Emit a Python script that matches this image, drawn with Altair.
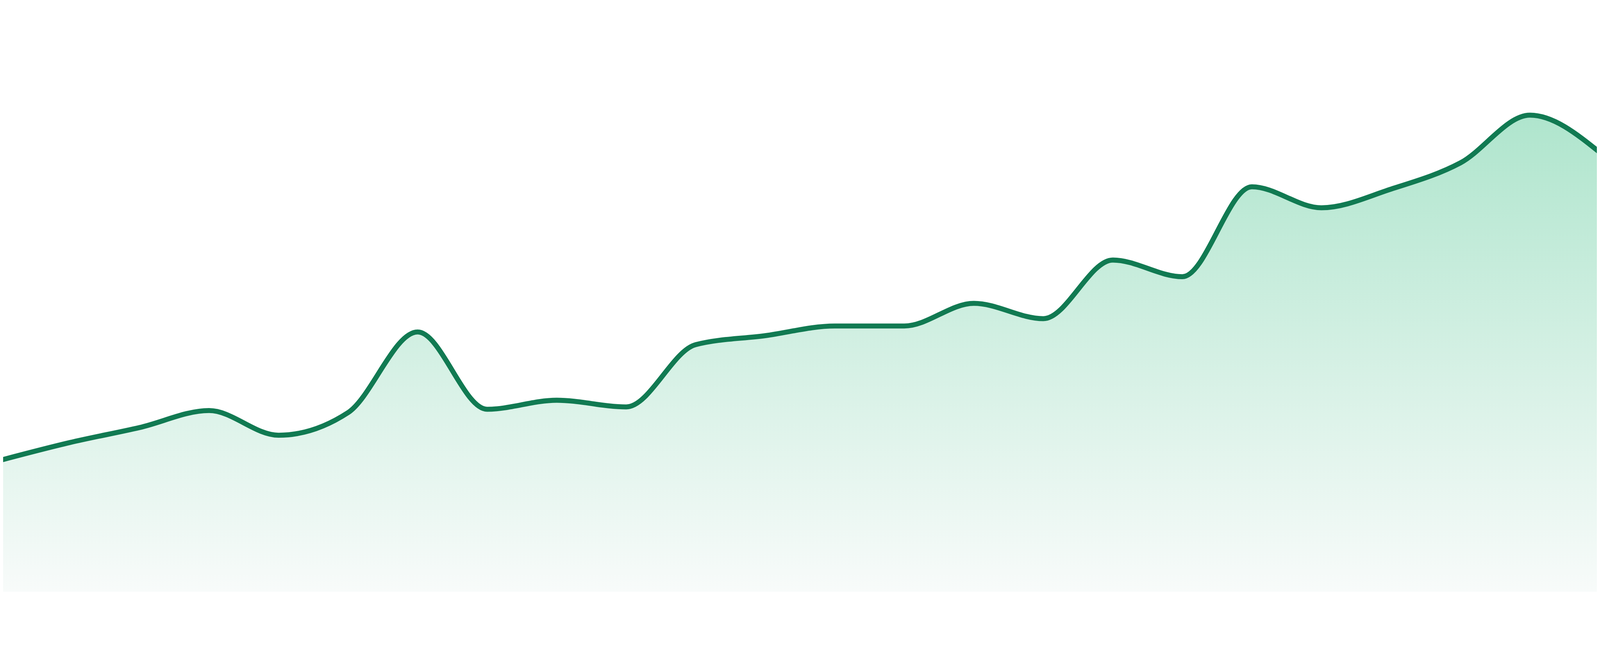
import altair as alt
import pandas as pd

period = list(range(24))
value = [24.32, 27.59, 30.36, 33.50, 28.94, 33.13, 48.03, 33.74,
         35.41, 34.18, 45.69, 47.35, 49.14, 49.14, 53.33, 50.49,
         61.33, 58.25, 74.88, 71.00, 74.45, 79.31, 88.12, 81.28]

df = pd.DataFrame({"period": period, "value": value})

W, H = 4784, 1624
FULL_W = 4800
n_int = len(period) - 1
step = FULL_W / n_int
x_dom = [8 / step, (8 + W) / step]

x_enc = alt.X("period:Q", axis=None,
              scale=alt.Scale(domain=x_dom, nice=False, zero=False))
y_enc = alt.Y("value:Q", axis=None,
              scale=alt.Scale(domain=[0, 100], nice=False))

base = alt.Chart(df).encode(x=x_enc, y=y_enc)

area = base.mark_area(
    interpolate="monotone",
    clip=True,
    color=alt.Gradient(
        gradient="linear",
        stops=[alt.GradientStop(color="#afe5cd", offset=0),
               alt.GradientStop(color="#f8fbfa", offset=1)],
        x1=0, x2=0, y1=0, y2=1,
    ),
)

line = base.mark_line(
    interpolate="monotone",
    clip=True,
    color="#117a52",
    strokeWidth=15,
    strokeJoin="round",
    strokeCap="butt",
)

chart = (
    alt.layer(area, line)
    .properties(width=W, height=H,
                autosize=alt.AutoSizeParams(type="none"),
                padding={"left": 0, "top": 0, "right": 0, "bottom": 40},
                background="white")
    .configure_view(stroke=None)
)

chart.save("out.html", embed_options={"renderer": "svg", "actions": False})
